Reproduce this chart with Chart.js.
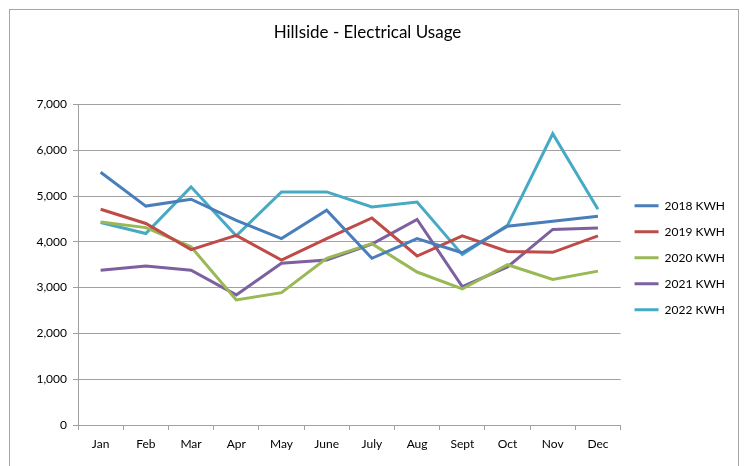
<!DOCTYPE html>
<html>
<head>
<meta charset="utf-8">
<script src="https://cdn.jsdelivr.net/npm/chart.js@4"></script>
<style>
  body{margin:0;background:#fff;}
  #wrap{position:relative;width:745px;height:466px;overflow:hidden;}
  #frame{position:absolute;left:9px;top:9px;width:728px;height:480px;border:1px solid #a6a6a6;}
  canvas{position:absolute;left:0;top:0;}
</style>
</head>
<body>
<div id="wrap">
  <div id="frame"></div>
  <canvas id="grafico" width="745" height="466"></canvas>
</div>
<script>
const months = ['Jan','Feb','Mar','Apr','May','June','July','Aug','Sept','Oct','Nov','Dec'];

const kwh2018 = [5520,4780,4930,4470,4070,4690,3640,4070,3760,4340,4450,4560];
const kwh2019 = [4710,4400,3830,4140,3600,4070,4520,3690,4130,3790,3770,4130];
const kwh2020 = [4430,4310,3890,2730,2890,3640,3960,3340,2970,3500,3180,3360];
const kwh2021 = [3380,3470,3380,2840,3530,3600,3950,4490,3020,3450,4270,4300];
const kwh2022 = [4420,4180,5200,4130,5090,5090,4760,4870,3720,4360,6360,4710];

const seriesNames = ['2018 KWH','2019 KWH','2020 KWH','2021 KWH','2022 KWH'];
const seriesData = [kwh2018,kwh2019,kwh2020,kwh2021,kwh2022];
const colors = ['#4a7ebb','#be4b48','#98b954','#7d60a0','#46aac5'];

const font = "Lato, 'Open Sans', sans-serif";
const grid = '#a0a0a0';

const chart = new Chart(grafico, {
  type:'line',
  data:{
    labels: months,
    datasets: seriesNames.map((n,i)=>({
      label:n,
      data:seriesData[i],
      borderColor:colors[i],
      backgroundColor:colors[i],
      borderWidth:3,
      pointRadius:0,
      tension:0
    }))
  },
  options:{
    responsive:false,
    animation:false,
    layout:{padding:{left:0,right:10,top:0,bottom:0}},
    plugins:{
      title:{
        display:true,
        text:'Hillside - Electrical Usage',
        color:'#000',
        font:{family:font,size:17,weight:'normal'},
        padding:{top:22,bottom:62}
      },
      legend:{
        position:'right',
        fullSize:false,
        align:'start',
        // empty title only used as a spacer to push the items down
        title:{display:true,text:'',font:{family:font,size:12},padding:{top:67,bottom:0}},
        labels:{
          usePointStyle:true,
          pointStyle:'line',
          pointStyleWidth:24,
          padding:14,
          color:'#000',
          font:{family:font,size:12}
        }
      },
      tooltip:{enabled:false}
    },
    scales:{
      x:{
        offset:true,
        grid:{offset:true,drawOnChartArea:false,drawTicks:true,tickLength:5,color:grid},
        border:{color:grid},
        ticks:{color:'#000',font:{family:font,size:12},padding:7,maxRotation:0,autoSkip:false},
        afterFit:s=>{s.height=41;}
      },
      y:{
        min:0,max:7000,
        grid:{color:grid,tickLength:5},
        border:{color:grid},
        ticks:{
          stepSize:1000,color:'#000',font:{family:font,size:12},padding:6,
          callback:v=>v.toLocaleString('en-US')
        },
        afterFit:s=>{s.width=78;}
      }
    }
  }
});
</script>
</body>
</html>
